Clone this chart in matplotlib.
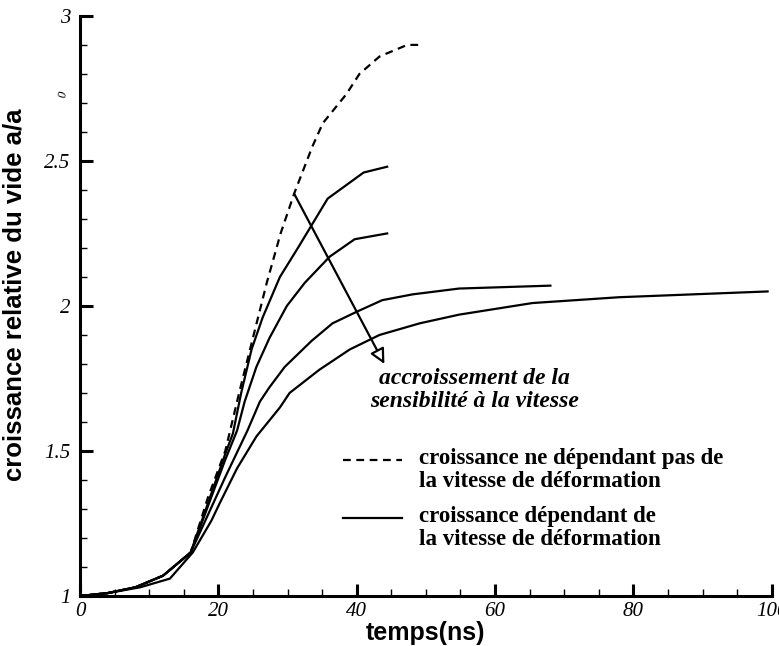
import matplotlib
matplotlib.use('Agg')
import matplotlib.pyplot as plt
from matplotlib.ticker import MultipleLocator

# courbe sans dependance a la vitesse (pointilles)
x_dash = [0, 4, 8, 12, 16, 18.5, 21, 23, 25, 27, 29, 31, 33.6, 35.1, 38.5, 40.4, 43.3, 47.3, 49.3]
y_dash = [1.0, 1.01, 1.03, 1.07, 1.15, 1.34, 1.50, 1.70, 1.89, 2.08, 2.25, 2.39, 2.55, 2.63, 2.73, 2.80, 2.86, 2.90, 2.90]

# courbes avec dependance a la vitesse
x_c1 = [0, 4, 8, 12, 16, 18.5, 21, 22.1, 23.3, 24.8, 26.4, 28.9, 31.5, 35.8, 41.0, 44.4]
y_c1 = [1.0, 1.01, 1.03, 1.07, 1.15, 1.32, 1.49, 1.56, 1.70, 1.85, 1.96, 2.10, 2.20, 2.37, 2.46, 2.48]

x_c2 = [0, 4, 8, 12, 16, 18.5, 21, 22.7, 23.8, 25.5, 27.4, 29.9, 32.5, 36.1, 39.7, 44.4]
y_c2 = [1.0, 1.01, 1.03, 1.07, 1.15, 1.31, 1.47, 1.57, 1.67, 1.79, 1.89, 2.00, 2.08, 2.17, 2.23, 2.25]

x_c3 = [0, 4, 8, 12, 16, 18.5, 21, 24.2, 26.0, 27.4, 29.6, 33.5, 36.5, 40.0, 43.7, 48.1, 54.8, 68.0]
y_c3 = [1.0, 1.01, 1.03, 1.07, 1.15, 1.28, 1.41, 1.57, 1.67, 1.72, 1.79, 1.88, 1.94, 1.98, 2.02, 2.04, 2.06, 2.07]

x_c4 = [0, 4, 8.7, 13, 16.3, 19, 20.2, 22.7, 25.5, 28.9, 30.3, 34.6, 39.0, 43.3, 49.1, 54.8, 65.4, 77.9, 99.4]
y_c4 = [1.0, 1.01, 1.03, 1.06, 1.15, 1.26, 1.32, 1.44, 1.55, 1.65, 1.70, 1.78, 1.85, 1.90, 1.94, 1.97, 2.01, 2.03, 2.05]

x_ticks = [0, 20, 40, 60, 80, 100]
y_ticks = [1, 1.5, 2, 2.5, 3]
y_labels = ['1', '1.5', '2', '2.5', '3']

serif = 'Liberation Serif'
sans = 'Liberation Sans'

fig = plt.figure(figsize=(7.79, 6.46), dpi=100)
ax = fig.add_axes([0.1027, 0.0774, 0.888, 0.898])

ax.plot(x_dash, y_dash, color='black', lw=1.6, ls=(0, (3.5, 2.5)))
for xs, ys in [(x_c1, y_c1), (x_c2, y_c2), (x_c3, y_c3), (x_c4, y_c4)]:
    ax.plot(xs, ys, color='black', lw=1.6)

ax.set_xlim(0, 100)
ax.set_ylim(1, 3)

for side in ['top', 'right']:
    ax.spines[side].set_visible(False)
for side in ['left', 'bottom']:
    ax.spines[side].set_linewidth(2.2)

ax.set_xticks(x_ticks)
ax.set_xticklabels([str(t) for t in x_ticks])
ax.set_yticks(y_ticks)
ax.set_yticklabels(y_labels)
ax.xaxis.set_minor_locator(MultipleLocator(5))
ax.yaxis.set_minor_locator(MultipleLocator(0.1))
ax.tick_params(which='major', direction='in', length=9, width=2.2)
ax.tick_params(which='minor', direction='in', length=5, width=1.0)
ax.tick_params(axis='y', pad=7)
ax.tick_params(axis='x', pad=4)
for lab in ax.get_xticklabels() + ax.get_yticklabels():
    lab.set_fontfamily(serif)
    lab.set_fontstyle('italic')
    lab.set_fontsize(15)

ax.set_xlabel('temps(ns)', fontfamily=sans, fontweight='bold', fontsize=18, labelpad=0)
ax.set_ylabel('croissance relative du vide a/a', fontfamily=sans, fontweight='bold', fontsize=18.5)
ax.yaxis.set_label_coords(-0.077, 0.52)

# petit residu de label sur l'axe
ax.text(-2.4, 2.73, '0', fontfamily=serif, fontstyle='italic', fontsize=9,
        rotation=80, ha='center', va='center', clip_on=False)

# fleche
ax.annotate('', xy=(44.0, 1.80), xytext=(31.0, 2.385),
            arrowprops=dict(arrowstyle='-|>,head_length=0.9,head_width=0.45',
                            fc='white', ec='black', lw=1.6, shrinkA=0, shrinkB=0))
ax.text(57.0, 1.71, 'accroissement de la\nsensibilité à la vitesse', fontfamily=serif,
        fontstyle='italic', fontweight='bold', fontsize=17, ha='center', va='center',
        linespacing=1.1)

# legende
ax.plot([38, 46.5], [1.47, 1.47], color='black', lw=1.6, ls=(0, (3.5, 2.5)))
ax.plot([38, 46.5], [1.27, 1.27], color='black', lw=1.6)
ax.text(49, 1.435, 'croissance ne dépendant pas de\nla vitesse de déformation', fontfamily=serif,
        fontweight='bold', fontsize=16.5, ha='left', va='center', linespacing=1.1)
ax.text(49, 1.235, 'croissance dépendant de\nla vitesse de déformation', fontfamily=serif,
        fontweight='bold', fontsize=16.5, ha='left', va='center', linespacing=1.1)

fig.savefig('out.png', dpi=100)
